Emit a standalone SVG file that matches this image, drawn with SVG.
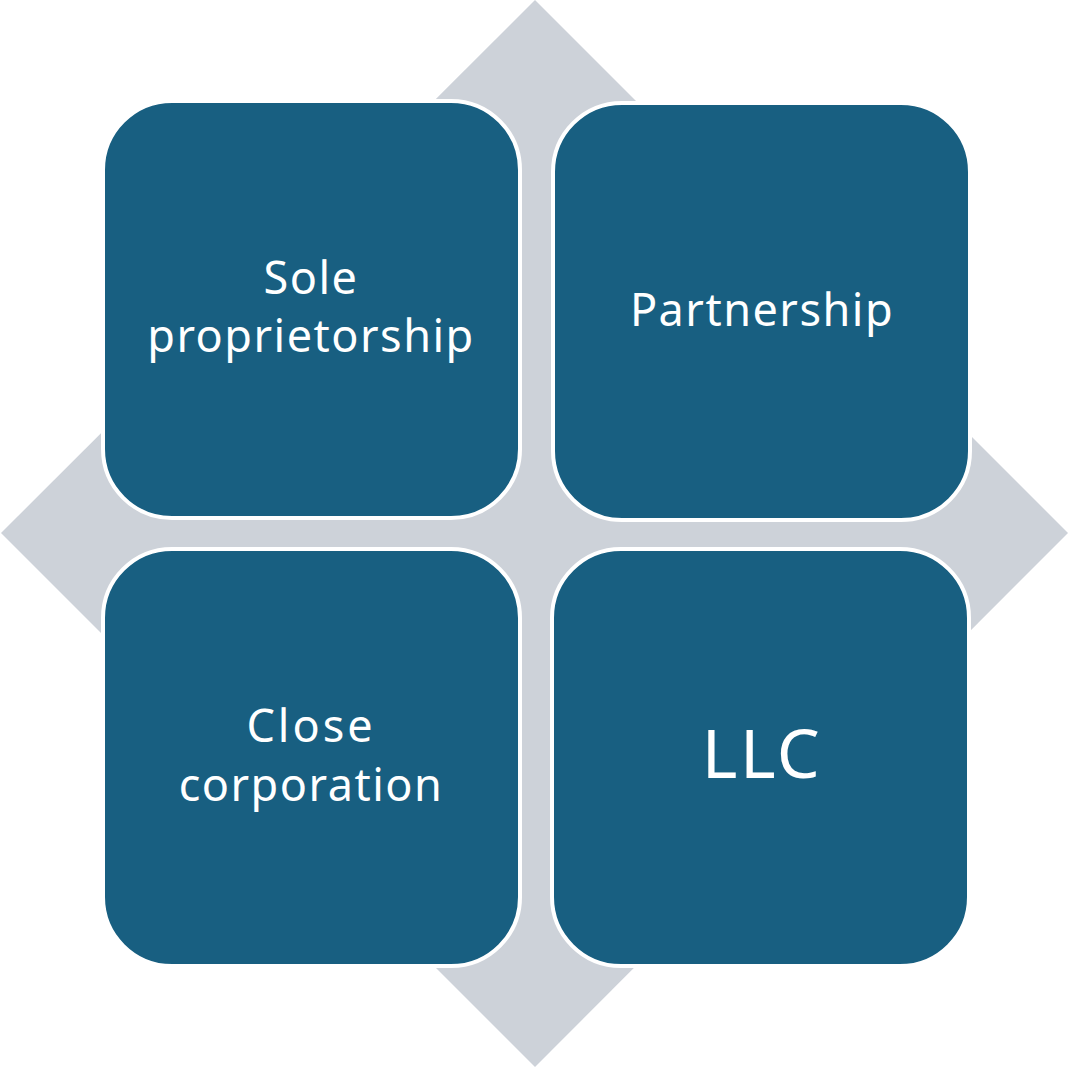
<svg xmlns="http://www.w3.org/2000/svg" width="1068" height="1067" viewBox="0 0 1068 1067">
  <style>
    .box { fill: #185F81; stroke: #FFFFFF; stroke-width: 4; }
    .label { fill: #FFFFFF; font-family: "Noto Sans", "Open Sans", sans-serif; font-size: 45px; text-anchor: middle; letter-spacing: 1.5px; }
    .big { font-size: 68px; letter-spacing: 2.5px; }
  </style>
  <rect width="1068" height="1067" fill="#FFFFFF"/>
  <!-- background diamond -->
  <polygon id="backdrop" points="535,0 1068,533 535,1067 1,533" fill="#CDD2D9"/>

  <g id="node-sole">
    <rect class="box" x="103" y="101" width="417" height="417" rx="69" ry="69"/>
    <text class="label" x="311" y="294">Sole</text>
    <text class="label" x="311" y="352">proprietorship</text>
  </g>
  <g id="node-partnership">
    <rect class="box" x="553" y="103" width="417" height="417" rx="69" ry="69"/>
    <text class="label" x="762" y="326">Partnership</text>
  </g>
  <g id="node-close">
    <rect class="box" x="103" y="549" width="417" height="417" rx="69" ry="69"/>
    <text class="label" x="311" y="742" style="letter-spacing:3px">Close</text>
    <text class="label" x="311" y="801">corporation</text>
  </g>
  <g id="node-llc">
    <rect class="box" x="552" y="549" width="417" height="417" rx="69" ry="69"/>
    <text class="label big" x="762" y="778">LLC</text>
  </g>
  <g id="connectors"/>
</svg>
